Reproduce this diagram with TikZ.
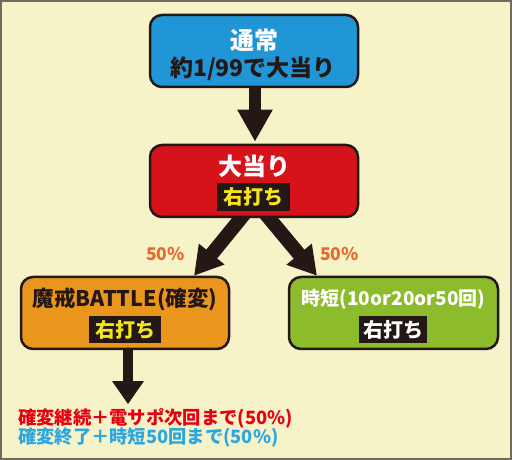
\documentclass[tikz,border=0pt]{standalone}
\usepackage{fontspec}
\setmainfont{Noto Sans CJK JP}
\usetikzlibrary{arrows.meta,calc}
\definecolor{bgc}{HTML}{F6F3C9}
\definecolor{framec}{HTML}{6E6A60}
\definecolor{dark}{HTML}{231815}
\definecolor{cblue}{HTML}{2196D6}
\definecolor{cred}{HTML}{D6131B}
\definecolor{corange}{HTML}{EA951C}
\definecolor{cgreen}{HTML}{8CBB2B}
\definecolor{cyell}{HTML}{F5E61C}
\definecolor{pct}{HTML}{E8672A}
\definecolor{tred}{HTML}{E60012}
\definecolor{tblue}{HTML}{2EA7E0}
\pgfdeclarelayer{back}
\pgfsetlayers{back,main}
\tikzset{
  box/.style={draw=dark, line width=2.5pt, rounded corners=12pt, minimum width=208pt, minimum height=72pt, inner sep=0pt},
  tag/.style={fill=dark, inner sep=0pt, minimum height=28pt, font=\bfseries\fontsize{20}{20}\selectfont},
  big/.style={font=\bfseries\fontsize{24}{24}\selectfont, inner sep=0pt},
  mid/.style={font=\bfseries\fontsize{21.5}{21.5}\selectfont, inner sep=0pt},
  pctlabel/.style={text=pct, font=\bfseries\fontsize{17.5}{17.5}\selectfont, inner sep=0pt},
  note/.style={font=\bfseries\fontsize{18.3}{18.3}\selectfont, inner sep=0pt, anchor=west},
  varrow/.style={draw=dark, line width=12pt, -{Triangle[length=32pt,width=33pt]}},
  darrow/.style={draw=dark, line width=14pt, -{Triangle[length=28pt,width=31pt]}},
  barrow/.style={draw=dark, line width=10pt, -{Triangle[length=23pt,width=30pt]}}
}
\begin{document}
\begin{tikzpicture}[x=1pt,y=1pt]
\useasboundingbox (0,0) rectangle (512,460);
% boxes
\node[box, fill=cblue] (normal) at (254,409) {};
\node[box, fill=cred] (hit) at (254,279) {};
\node[box, fill=corange] (battle) at (125,147) {};
\node[box, fill=cgreen, minimum width=209pt] (time) at (393.5,147) {};
% texts
\node[big, text=white] (tnormal) at (254,420) {通常};
\node[mid, text=dark, font=\bfseries\fontsize{23}{23}\selectfont] (tprob) at (253,391) {約1/99で大当り};
\node[big, text=white] (thit) at (254,294) {大当り};
\node[tag, text=cyell, minimum width=73pt] (taghit) at (253.5,263) {右打ち};
\node[mid, text=dark] (tbattle) at (125,161) {魔戒BATTLE(確変)};
\node[tag, text=cyell, minimum width=72pt, minimum height=27pt] (tagbattle) at (125,130.5) {右打ち};
\node[mid, text=white, font=\bfseries\fontsize{19}{19}\selectfont] (ttime) at (393.5,161) {時短(10or20or50回)};
\node[tag, text=white, minimum width=68pt, minimum height=27pt] (tagtime) at (393,130.5) {右打ち};
\node[pctlabel] (pl) at (165.5,206) {50\%};
\node[pctlabel] (pr) at (339.5,206) {50\%};
\node[note, text=tred] (n1) at (18,42) {確変継続＋電サポ次回まで(50\%)};
\node[note, text=tblue] (n2) at (18,22) {確変終了＋時短50回まで(50\%)};
% connectors and background
\coordinate (a1s) at ($(normal.south)+(1,4)$);
\coordinate (a1e) at ($(hit.north)+(1,2)$);
\coordinate (l1) at ($(hit.south)+(-11.5,2)$);
\coordinate (l2) at ($(battle.north)+(69,0)$);
\coordinate (r1) at ($(hit.south)+(13.5,2)$);
\coordinate (r2) at ($(time.north)+(-76.5,0)$);
\coordinate (b1) at ($(battle.south)+(3,4)$);
\coordinate (b2) at ($(battle.south)+(3,-54)$);
\begin{pgfonlayer}{back}
\path[fill=bgc, draw=framec, line width=2pt] (1,1) rectangle (511,459);
\draw[varrow] (a1s) -- (a1e);
\draw[darrow] ($(l1)!-9pt!(l2)$) -- (l2);
\draw[darrow] ($(r1)!-9pt!(r2)$) -- (r2);
\draw[barrow] (b1) -- (b2);
\end{pgfonlayer}
\end{tikzpicture}
\end{document}
